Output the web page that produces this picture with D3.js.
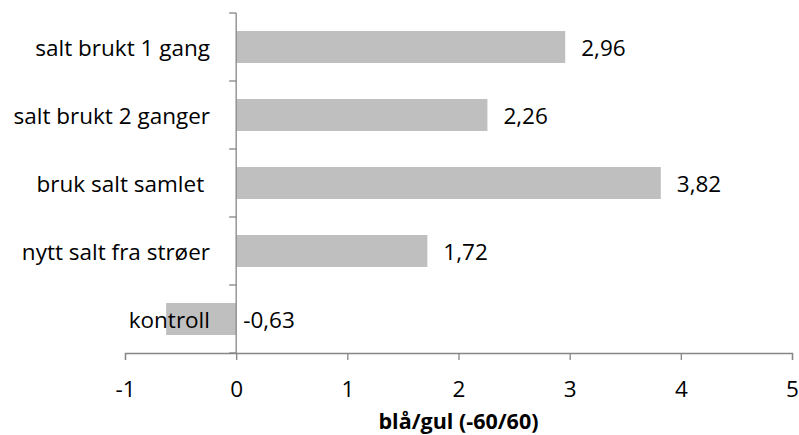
<!DOCTYPE html>
<html><head><meta charset="utf-8">
<script src="https://cdn.jsdelivr.net/npm/d3@7"></script>
<style>body{margin:0;background:#fff}svg{display:block}text{font-family:"Open Sans",sans-serif}</style>
</head><body>
<svg id="c" width="799" height="435"></svg>
<script>
const categories = ["salt brukt 1 gang","salt brukt 2 ganger","bruk salt samlet ","nytt salt fra strøer","kontroll"];
const values = [2.96, 2.26, 3.82, 1.72, -0.63];
const valueLabels = ["2,96","2,26","3,82","1,72","-0,63"];
const xTicks = [-1,0,1,2,3,4,5];
const xTitle = "blå/gul (-60/60)";

const FS = 22.5;
const svg = d3.select("#c");
const x = d3.scaleLinear().domain([-1,5]).range([125,792]);
const y = d3.scaleBand().domain(categories).range([13,353]).paddingInner(0.53).paddingOuter(0.265);
const axisColor = "#868686";

svg.selectAll("rect.bar").data(values).enter().append("rect")
  .attr("x", d => x(Math.min(0,d)))
  .attr("width", d => Math.abs(x(d)-x(0)))
  .attr("y", (d,i) => y(categories[i]))
  .attr("height", y.bandwidth())
  .attr("fill", "#bfbfbf");

svg.selectAll("text.cat").data(categories).enter().append("text")
  .attr("x", 210).attr("y", d => y(d)+y.bandwidth()/2)
  .attr("text-anchor","end").attr("dominant-baseline","central")
  .attr("font-size", FS).attr("fill","#000").style("white-space","pre")
  .text(d => d);

svg.selectAll("text.val").data(values).enter().append("text")
  .attr("x", d => (d >= 0 ? x(d) + 16 : x(0) + 7))
  .attr("y", (d,i) => y(categories[i]) + y.bandwidth()/2)
  .attr("dominant-baseline","central")
  .attr("font-size", FS).attr("fill","#000")
  .text((d,i) => valueLabels[i]);

svg.append("line").attr("x1",x(0)).attr("x2",x(0)).attr("y1",13).attr("y2",353)
  .attr("stroke",axisColor).attr("stroke-width",1.3);
const yTickPos = categories.map(c => y(c) - y.step()*y.paddingInner()/2).concat([353]);
svg.selectAll("line.yt").data(yTickPos).enter().append("line")
  .attr("x1", x(0)-7).attr("x2", x(0)).attr("y1", d=>d).attr("y2", d=>d)
  .attr("stroke",axisColor).attr("stroke-width",1.3);

const xa = svg.append("g").attr("transform","translate(0,353)")
  .call(d3.axisBottom(x).tickValues(xTicks).tickSize(7).tickFormat(d => String(d)));
xa.select(".domain").attr("stroke",axisColor).attr("stroke-width",1.3);
xa.selectAll(".tick line").attr("stroke",axisColor).attr("stroke-width",1.3);
xa.selectAll(".tick text").attr("y",35).attr("dy",null).attr("dominant-baseline","central")
  .attr("font-size",FS).attr("fill","#000").attr("font-family","Open Sans, sans-serif");

svg.append("text").attr("x",(x(-1)+x(5))/2).attr("y",420)
  .attr("text-anchor","middle").attr("dominant-baseline","central")
  .attr("font-size",21.5).attr("font-weight","bold").attr("fill","#000")
  .text(xTitle);
</script>
</body></html>
